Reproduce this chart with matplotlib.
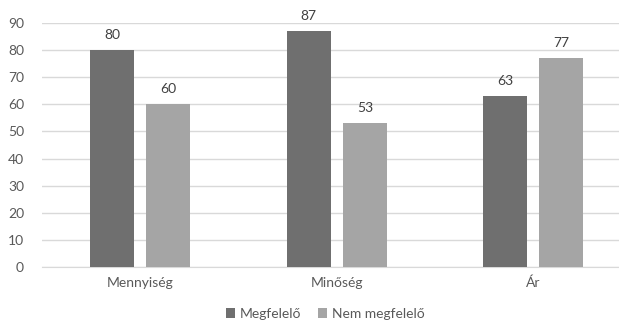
import matplotlib.pyplot as plt
import numpy as np

categories = ['Mennyiség', 'Minőség', 'Ár']
megfelelo = [80, 87, 63]
nem_megfelelo = [60, 53, 77]
series_names = ['Megfelelő', 'Nem megfelelő']

plt.rcParams['font.family'] = ['Lato', 'DejaVu Sans']
text_col = '#595959'

fig = plt.figure(figsize=(6.19, 3.26), dpi=100)
ax = fig.add_axes([42 / 619, 59 / 326, 589.5 / 619, 244 / 326])

x = np.arange(len(categories))
w = 0.224
off = 0.143
b1 = ax.bar(x - off, megfelelo, w, color='#6f6f6f', label=series_names[0], zorder=3)
b2 = ax.bar(x + off, nem_megfelelo, w, color='#a5a5a5', label=series_names[1], zorder=3)

for bars in (b1, b2):
    for r in bars:
        ax.annotate(str(int(r.get_height())), (r.get_x() + r.get_width() / 2, r.get_height()),
                    xytext=(0, 6.5), textcoords='offset points', ha='center', va='bottom',
                    fontsize=10, color='#404040')

ax.set_xlim(-0.5, 2.5)
ax.set_ylim(0, 90)
ax.set_yticks(range(0, 91, 10))
ax.set_xticks(x)
ax.set_xticklabels(categories)
ax.grid(axis='y', color='#d9d9d9', linewidth=1, zorder=0)
for s in ['top', 'right', 'left']:
    ax.spines[s].set_visible(False)
ax.spines['bottom'].set_color('#d9d9d9')
ax.tick_params(axis='both', length=0, labelsize=10, colors=text_col)
ax.tick_params(axis='y', pad=13)
ax.tick_params(axis='x', pad=7)

fig.legend(loc='center', bbox_to_anchor=(325 / 619, 1 - 314 / 326), ncol=2, frameon=False,
           fontsize=10, handlelength=0.7, handleheight=0.7, handletextpad=0.3,
           columnspacing=1.2, labelcolor=text_col)

fig.savefig('out.png', dpi=100)
